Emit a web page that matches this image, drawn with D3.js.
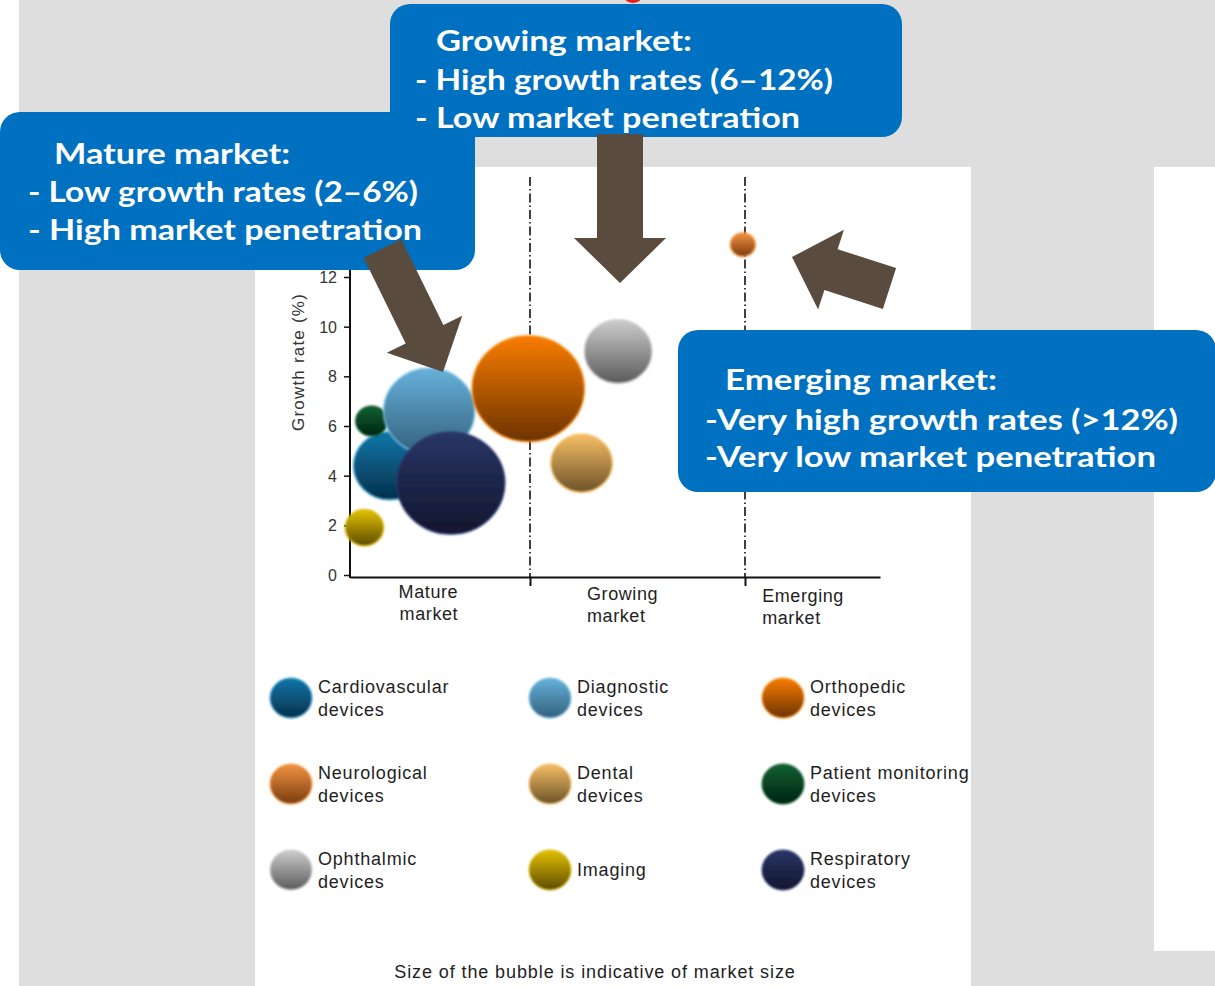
<!DOCTYPE html>
<head>
<meta charset="utf-8">
<script src="https://d3js.org/d3.v7.min.js"></script>
<style>
  body { margin: 0; background: #ffffff; }
  text { font-family: "Liberation Sans", Arial, sans-serif; fill: #1e1e1e; }
  text.boxText { font-family: Lato, "Open Sans", sans-serif; font-weight: 700; font-size: 29px; fill: #ffffff; }
  text.tickLabel { font-size: 16px; fill: #333333; }
  text.catLabel { font-size: 18px; letter-spacing: 0.6px; }
  text.legendLabel { font-size: 18px; letter-spacing: 0.8px; }
  text.footer { font-size: 18px; letter-spacing: 0.9px; }
  .yAxis path.domain, .xAxis .tick text, .yAxis .tick text { display: none; }
</style>
</head>
<body>
<script>
// ---- data ----
const segments = ["Cardiovascular devices", "Diagnostic devices", "Orthopedic devices",
                  "Neurological devices", "Dental devices", "Patient monitoring devices",
                  "Ophthalmic devices", "Imaging", "Respiratory devices"];
// position along the maturity axis (0-1 mature, 1-2 growing, >2 emerging)
const maturity   = [0.22, 0.44, 0.99, 1.99, 1.24, 0.12, 1.41, 0.08, 0.56];
const growthRate = [4.4, 6.6, 7.5, 13.3, 4.5, 6.2, 9.0, 1.9, 3.7];
const marketSize = [12.4, 19.8, 30, 1.5, 9.0, 2.4, 10.9, 3.5, 27.8];
const drawOrder  = [0, 5, 1, 2, 8, 7, 4, 6, 3];

const categories = ["Mature|market", "Growing|market", "Emerging|market"];
const yTicks = [0, 2, 4, 6, 8, 10, 12];

const callouts = [
  { title: "Mature market:", lines: ["- Low growth rates (2\u20136%)", "- High market penetration"] },
  { title: "Growing market:", lines: ["- High growth rates (6\u201312%)", "- Low market penetration"] },
  { title: "Emerging market:", lines: ["-Very high growth rates (>12%)", "-Very low market penetration"] }
];

// ---- styles ----
const shades = {
  "Cardiovascular devices": ["#0c77aa", "#05304b"],
  "Diagnostic devices": ["#67b1da", "#33607d"],
  "Orthopedic devices": ["#f97d00", "#6c3300"],
  "Neurological devices": ["#f29442", "#7a3b10"],
  "Dental devices": ["#f6bf66", "#6c5228"],
  "Patient monitoring devices": ["#0c6232", "#032312"],
  "Ophthalmic devices": ["#cdcdcd", "#5a5a5a"],
  "Imaging": ["#e3c100", "#5c4a00"],
  "Respiratory devices": ["#293666", "#12162d"]
};
const rims = {
  "Cardiovascular devices": "#3d9fd0", "Diagnostic devices": "#7cc4ea", "Orthopedic devices": "#ff8c14",
  "Neurological devices": "#f89a40", "Dental devices": "#f8c060", "Patient monitoring devices": "#0a5a2c",
  "Ophthalmic devices": "#d0d0d0", "Imaging": "#d8b800", "Respiratory devices": "#2c3872"
};
const boxBlue = "#0070c0";
const arrowBrown = "#594c3e";

const W = 1215, H = 986;
const svg = d3.select("body").append("svg").attr("width", W).attr("height", H);
const defs = svg.append("defs");

defs.append("filter").attr("id", "soft")
  .attr("x", "-10%").attr("y", "-10%").attr("width", "120%").attr("height", "120%")
  .append("feGaussianBlur").attr("stdDeviation", 0.9);

segments.forEach((s, i) => {
  const g = defs.append("linearGradient").attr("id", "grad" + i)
    .attr("x1", 0).attr("y1", 0).attr("x2", 0).attr("y2", 1);
  g.append("stop").attr("offset", "0%").attr("stop-color", shades[s][0]);
  g.append("stop").attr("offset", "100%").attr("stop-color", shades[s][1]);
});

// ---- background ----
svg.append("rect").attr("x", 19).attr("y", 0).attr("width", W - 19).attr("height", H).attr("fill", "#dedede");
svg.append("rect").attr("x", 255).attr("y", 167).attr("width", 716).attr("height", H - 167).attr("fill", "#ffffff");
svg.append("rect").attr("x", 1154).attr("y", 167).attr("width", W - 1154).attr("height", 784).attr("fill", "#ffffff");
svg.append("ellipse").attr("cx", 633).attr("cy", -2).attr("rx", 8).attr("ry", 5).attr("fill", "#e8201c");

// ---- scales ----
const x = d3.scaleLinear().domain([0, 1, 2, 2.63]).range([350, 530, 745, 880]);
const y = d3.scaleLinear().domain([0, 12]).range([575, 277]);
const r = d3.scaleSqrt().domain([0, 30]).range([0, 53]);
const axisY = 577;

// y axis
svg.append("line").attr("x1", x(0)).attr("x2", x(0)).attr("y1", 190).attr("y2", axisY + 1)
  .attr("stroke", "#111").attr("stroke-width", 2);
const yAxisG = svg.append("g").attr("class", "yAxis").attr("transform", `translate(${x(0)},0)`)
  .call(d3.axisLeft(y).tickValues(yTicks).tickSize(6).tickSizeOuter(0));
yAxisG.selectAll(".tick line").attr("stroke", "#111").attr("stroke-width", 1.5);
svg.selectAll("text.tickLabel").data(yTicks).enter().append("text")
  .attr("class", "tickLabel")
  .attr("x", x(0) - 13).attr("y", d => y(d) + 6)
  .attr("text-anchor", "end").text(d => d);

svg.append("text").attr("transform", `translate(304,362) rotate(-90)`)
  .attr("text-anchor", "middle").style("font-size", "17px").style("letter-spacing", "1.2px")
  .style("fill", "#333").text("Growth rate (%)");

// dash-dot dividers
[1, 2].forEach(v => {
  svg.append("line").attr("x1", x(v)).attr("x2", x(v)).attr("y1", 177).attr("y2", axisY)
    .attr("stroke", "#111").attr("stroke-width", 1.6).attr("stroke-dasharray", "9,3,1.5,3");
});

// x axis
const xAxisG = svg.append("g").attr("class", "xAxis").attr("transform", `translate(0,${axisY})`)
  .call(d3.axisBottom(x).tickValues([1, 2]).tickSize(9).tickSizeOuter(0));
xAxisG.select("path.domain").attr("stroke", "#111").attr("stroke-width", 2.2);
xAxisG.selectAll(".tick line").attr("stroke", "#111").attr("stroke-width", 2);

const catStart = [0.27, 1.265, 2.08];
const catBase = [598, 600, 602];
categories.forEach((c, i) => {
  const t = svg.append("text").attr("class", "catLabel")
    .attr("x", x(catStart[i])).attr("y", catBase[i]);
  c.split("|").forEach((s, j) => {
    t.append("tspan").attr("x", x(catStart[i]) + (i === 0 && j === 1 ? 1 : 0))
      .attr("y", catBase[i] + j * 22).text(s);
  });
});

// ---- bubbles ----
svg.append("g").selectAll("ellipse").data(drawOrder).enter().append("ellipse")
  .attr("cx", i => x(maturity[i]))
  .attr("cy", i => y(growthRate[i]))
  .attr("rx", i => r(marketSize[i]) * 1.06)
  .attr("ry", i => r(marketSize[i]))
  .attr("fill", i => `url(#grad${i})`)
  .attr("stroke", i => rims[segments[i]])
  .attr("stroke-width", 1.2)
  .attr("filter", "url(#soft)");

// ---- legend ----
const legendColX = [291, 550, 783];
const legendRowY = [698, 784, 870];
const legend = svg.append("g");
segments.forEach((s, i) => {
  const cx = legendColX[i % 3], cy = legendRowY[Math.floor(i / 3)];
  legend.append("ellipse").attr("cx", cx).attr("cy", cy).attr("rx", 21).attr("ry", 20)
    .attr("fill", `url(#grad${i})`).attr("stroke", rims[s]).attr("stroke-width", 1)
    .attr("filter", "url(#soft)");
  const words = s.endsWith(" devices") ? [s.replace(" devices", ""), "devices"] : [s];
  const t = legend.append("text").attr("class", "legendLabel");
  words.forEach((w, j) => {
    t.append("tspan").attr("x", cx + 27)
      .attr("y", words.length === 1 ? cy + 6 : cy - 5 + j * 23).text(w);
  });
});

svg.append("text").attr("class", "footer").attr("x", 595).attr("y", 978)
  .attr("text-anchor", "middle").text("Size of the bubble is indicative of market size");

// ---- callout boxes (mature first, growing drawn over it) ----
const boxes = [
  { x: 0, y: 112, w: 475, h: 158, tx: 54, lx: 28, base: [164, 202, 240], widths: [236, 390, 394] },
  { x: 390, y: 4, w: 512, h: 133, tx: 436, lx: 415, base: [51, 90, 128], widths: [256, 418, 385] },
  { x: 678, y: 330, w: 538, h: 162, tx: 725, lx: 705, base: [390, 430, 467], widths: [272, 473, 451] }
];
boxes.forEach((b, i) => {
  svg.append("rect").attr("x", b.x).attr("y", b.y).attr("width", b.w).attr("height", b.h)
    .attr("rx", 20).attr("fill", boxBlue);
  const rows = [callouts[i].title].concat(callouts[i].lines);
  rows.forEach((s, j) => {
    svg.append("text").attr("class", "boxText")
      .attr("x", j === 0 ? b.tx : b.lx).attr("y", b.base[j])
      .attr("textLength", b.widths[j]).attr("lengthAdjust", "spacingAndGlyphs")
      .text(s);
  });
});

// ---- arrows ----
function arrowPoints(tail, tip, shaft, head, headLen) {
  const dx = tip[0] - tail[0], dy = tip[1] - tail[1], L = Math.hypot(dx, dy);
  const ux = dx / L, uy = dy / L, px = -uy, py = ux;
  const bx = tip[0] - ux * headLen, by = tip[1] - uy * headLen;
  const s = shaft / 2, h = head / 2;
  return [
    [tail[0] + px * s, tail[1] + py * s], [bx + px * s, by + py * s], [bx + px * h, by + py * h],
    tip, [bx - px * h, by - py * h], [bx - px * s, by - py * s], [tail[0] - px * s, tail[1] - py * s]
  ];
}
const arrows = [
  arrowPoints([382.5, 248.5], [443, 372], 42, 84, 42),
  arrowPoints([620, 134], [620, 283], 46, 92, 45),
  arrowPoints([889.5, 288.5], [792, 257], 43, 84, 41)
];
svg.selectAll("polygon.arrow").data(arrows).enter().append("polygon")
  .attr("class", "arrow")
  .attr("points", d => d.map(p => p.join(",")).join(" "))
  .attr("fill", arrowBrown);
</script>
</body>
